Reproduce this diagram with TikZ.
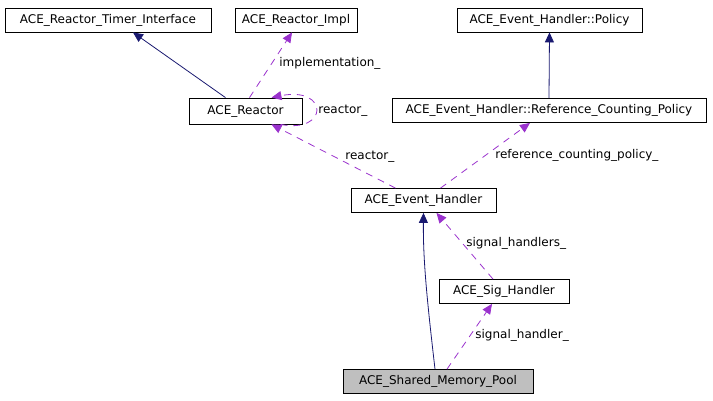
\documentclass[tikz,border=0pt]{standalone}
\usepackage{fontspec}
\setmainfont{DejaVu Sans}
\usetikzlibrary{arrows.meta, positioning}

\definecolor{inhcol}{HTML}{191970}
\definecolor{memcol}{HTML}{9A32CD}

\begin{document}
\begin{tikzpicture}[
          x=1pt, y=-1pt,
          line width=0.8pt,
          cls/.style={draw, rectangle, inner sep=0pt, minimum height=24pt, font=\fontsize{12}{14}\selectfont},
          clsgray/.style={cls, fill=black!25},
          inherit/.style={draw=inhcol, -{Triangle[length=10pt, width=9pt, fill=inhcol]}},
          member/.style={draw=memcol, dash pattern=on 7pt off 6pt, -{Triangle[length=10pt, width=9pt, fill=memcol]}},
          lbl/.style={anchor=west, inner sep=0pt, font=\fontsize{12}{14}\selectfont}
        ]
          \useasboundingbox (0,0) rectangle (713,400);

          % Klassen
          \node[cls, minimum width=206pt] (timer) at (108,20) {ACE\_Reactor\_Timer\_Interface};
          \node[cls, minimum width=122pt] (impl) at (296,20) {ACE\_Reactor\_Impl};
          \node[cls, minimum width=185pt] (policy) at (549.5,20) {ACE\_Event\_Handler::Policy};
          \node[cls, minimum width=113pt, minimum height=26pt] (reactor) at (245.5,111) {ACE\_Reactor};
          \node[cls, minimum width=314pt] (refpol) at (549,110.5) {ACE\_Event\_Handler::Reference\_Counting\_Policy};
          \node[cls, minimum width=145pt] (evh) at (423.5,200.5) {ACE\_Event\_Handler};
          \node[cls, minimum width=130pt] (sig) at (504,291.5) {ACE\_Sig\_Handler};
          \node[clsgray, minimum width=190pt] (pool) at (438,381.5) {ACE\_Shared\_Memory\_Pool};

          % Vererbung
          \draw[inherit] ([xshift=-20pt]reactor.north) -- ([xshift=25pt]timer.south);
          \draw[inherit] (refpol.north) -- (policy.south);
          \draw[inherit] ([xshift=-3pt]pool.north) .. controls (427,300) and (423,260) .. (evh.south);

          % Attribute
          \draw[member] ([xshift=4pt]reactor.north) -- ([xshift=-4pt]impl.south);
          \node[lbl] (limpl) at (279,63) {implementation\_};
          \draw[member] ([xshift=35pt]reactor.south) .. controls (329,134) and (329,86) .. ([xshift=26pt]reactor.north);
          \node[lbl] (lself) at (318,111) {reactor\_};
          \draw[member] ([xshift=-28pt]evh.north) -- ([xshift=26pt]reactor.south);
          \node[lbl] (lreactor) at (345,157) {reactor\_};
          \draw[member] ([xshift=17pt]evh.north) -- ([xshift=-19pt]refpol.south);
          \node[lbl] (lrefpol) at (495,155) {reference\_counting\_policy\_};
          \draw[member] ([xshift=-11pt]sig.north) -- ([xshift=13pt]evh.south);
          \node[lbl] (lsigs) at (466,243) {signal\_handlers\_};
          \draw[member] ([xshift=9pt]pool.north) -- ([xshift=-12pt]sig.south);
          \node[lbl] (lsig) at (475,335) {signal\_handler\_};
        \end{tikzpicture}
\end{document}
